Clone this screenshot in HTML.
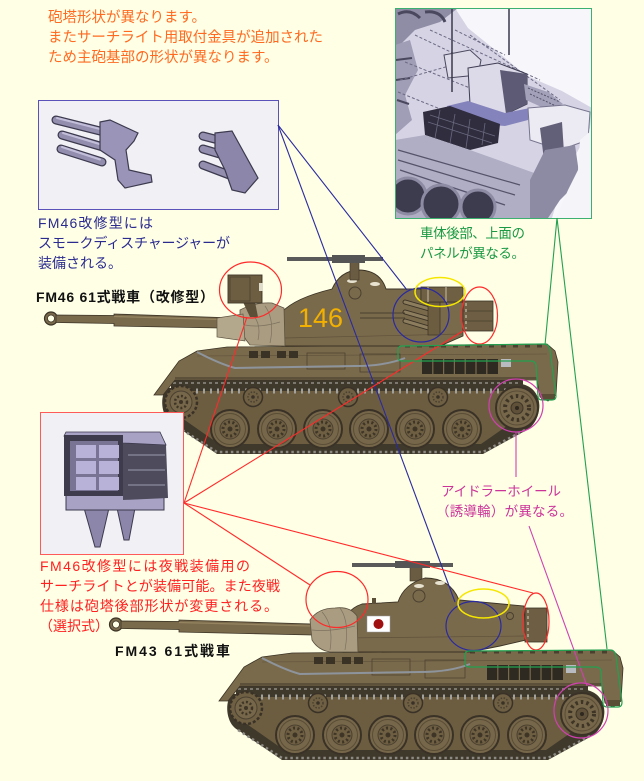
<!DOCTYPE html>
<html><head><meta charset="utf-8">
<style>
html,body{margin:0;padding:0;background:#FFFFE6;}
svg{display:block;}
text{font-family:"Liberation Sans","Noto Sans CJK JP",sans-serif;}
</style></head><body>
<svg width="644" height="781" viewBox="0 0 644 781" xmlns="http://www.w3.org/2000/svg">
<defs>
<g id="rw">
 <circle r="19" fill="#76674a" stroke="#3a3226" stroke-width="2"/>
 <circle r="15.5" fill="none" stroke="#5a4d36" stroke-width="1"/>
 <circle r="10" fill="#6e5f43" stroke="#4a4030" stroke-width="1"/>
 <circle r="7" fill="none" stroke="#3e3526" stroke-width="3" stroke-dasharray="2 2.4"/>
 <circle r="2.5" fill="#3e3526"/>
</g>
<g id="rr">
 <circle r="9.5" fill="#6f6044" stroke="#3a3226" stroke-width="1.5"/>
 <circle r="5" fill="none" stroke="#4a4030" stroke-width="1.5" stroke-dasharray="1.5 1.5"/>
 <circle r="1.8" fill="#3a3226"/>
</g>
<g id="idl">
 <circle r="21" fill="#76674a" stroke="#3a3226" stroke-width="2"/>
 <circle r="17" fill="none" stroke="#5a4d36"/>
 <circle r="12" fill="none" stroke="#3e3526" stroke-width="4" stroke-dasharray="2.5 3"/>
 <circle r="6" fill="#5e5039" stroke="#3e3526"/>
 <circle r="2" fill="#2e281e"/>
</g>
<g id="spr">
 <circle r="16" fill="#6f6044" stroke="#3a3226" stroke-width="2.5" stroke-dasharray="3 2"/>
 <circle r="11" fill="#76674a" stroke="#4a4030"/>
 <circle r="6" fill="none" stroke="#3e3526" stroke-width="2.5" stroke-dasharray="2 2"/>
 <circle r="2" fill="#3e3526"/>
</g>
<g id="hull">
 <path d="M232,694 L586,690 C600,692 606,705 604,716 C602,728 596,734 590,737 L548,760 L282,760 L238,730 C226,724 224,702 232,694 Z" fill="#3f392c"/>
 <path d="M238,730 L282,758 L548,758 L590,736" fill="none" stroke="#8d8a84" stroke-width="2.5" stroke-dasharray="2.5 3"/>
 <path d="M244,697 L584,697 L592,718 L546,750 L284,750 L244,722 Z" fill="#6c5d41"/>
 <rect x="236" y="686" width="352" height="8" fill="#3f392c"/>
 <line x1="238" y1="689" x2="586" y2="689" stroke="#7c7870" stroke-width="2" stroke-dasharray="3 3"/>
 <line x1="240" y1="697" x2="585" y2="697" stroke="#a3a19c" stroke-width="5" stroke-dasharray="2 5"/>
 <use href="#rr" x="318" y="703"/>
 <use href="#rr" x="413" y="703"/>
 <use href="#rr" x="503" y="703"/>
 <use href="#rw" x="295" y="735"/>
 <use href="#rw" x="342" y="735"/>
 <use href="#rw" x="388" y="735"/>
 <use href="#rw" x="434" y="735"/>
 <use href="#rw" x="480" y="735"/>
 <use href="#rw" x="527" y="735"/>
 <use href="#spr" x="246" y="708"/>
 <use href="#idl" x="582" y="714"/>
 <path d="M219,701 L244,667 L262,657 L292,653 L612,650 L620,657 L623,668 L621,701 L613,707 L605,703 L602,686 L240,686 L228,701 Z" fill="#7a6a4c" stroke="#3b3325" stroke-width="0.8"/>
 <line x1="240" y1="684" x2="602" y2="684" stroke="#4a4030" stroke-width="1.2"/>
 <line x1="262" y1="662" x2="612" y2="660" stroke="#5e513a" stroke-width="0.6"/>
 <rect x="314" y="657" width="9" height="7" fill="#3a3325"/>
 <rect x="326" y="657" width="9" height="7" fill="#3a3325"/>
 <rect x="342" y="657" width="9" height="7" fill="#3a3325"/>
 <rect x="354" y="657" width="9" height="7" fill="#3a3325"/>
 <rect x="372" y="659" width="38" height="16" fill="none" stroke="#4e4331" stroke-width="0.8"/>
 <rect x="425" y="660" width="40" height="18" fill="none" stroke="#4e4331" stroke-width="0.8"/>
 <path d="M262,658 Q285,670 300,674 L420,672 Q450,672 470,664" fill="none" stroke="#8e949c" stroke-width="2"/>
 <rect x="487" y="665" width="76" height="15" fill="#2e2a22"/>
 <path d="M497.8,665 V680 M508.6,665 V680 M519.4,665 V680 M530.2,665 V680 M541,665 V680 M551.8,665 V680" stroke="#7a6a4c" stroke-width="1.2"/>
 <rect x="566" y="665" width="10" height="8" fill="#b8bcc0"/>
 <path d="M470,652 H612" stroke="#4a4030" stroke-width="3" stroke-dasharray="5 7"/>
 <rect x="606" y="700" width="14" height="6" fill="#5a4d36"/>
</g>
<clipPath id="rc"><rect x="395" y="8" width="196" height="210"/></clipPath>
</defs>

<rect width="644" height="781" fill="#FFFFE6"/>

<!-- Orange text -->
<g fill="#ff6a20" font-size="14.5">
<text x="48" y="22">砲塔形状が異なります。</text>
<text x="48" y="42" textLength="275">またサーチライト用取付金具が追加された</text>
<text x="48" y="62">ため主砲基部の形状が異なります。</text>
</g>

<!-- Smoke discharger box -->
<rect x="38.5" y="100.5" width="240" height="109" fill="#f1f1f5" stroke="#5a52b8" stroke-width="1"/>
<g stroke-linecap="round">
 <g stroke="#3c3a4e" stroke-width="9">
  <line x1="56" y1="120" x2="108" y2="133"/>
  <line x1="62" y1="135" x2="103" y2="147"/>
  <line x1="61" y1="149" x2="102" y2="162"/>
  <line x1="203" y1="136" x2="230" y2="143"/>
  <line x1="203" y1="149" x2="230" y2="157"/>
  <line x1="203" y1="165" x2="232" y2="176"/>
 </g>
 <g stroke="#938dae" stroke-width="6.5">
  <line x1="56" y1="120" x2="108" y2="133"/>
  <line x1="62" y1="135" x2="103" y2="147"/>
  <line x1="61" y1="149" x2="102" y2="162"/>
  <line x1="203" y1="136" x2="230" y2="143"/>
  <line x1="203" y1="149" x2="230" y2="157"/>
  <line x1="203" y1="165" x2="232" y2="176"/>
 </g>
 <g stroke="#c2bdd8" stroke-width="2">
  <line x1="57" y1="118" x2="106" y2="130.5"/>
  <line x1="63" y1="133" x2="101" y2="144.5"/>
  <line x1="62" y1="147" x2="100" y2="159.5"/>
 </g>
</g>
<polygon points="100,122 110,120 138,133 134,141 126,150 129,170 151,175 152,182 125,188 118,180 115,160 100,150" fill="#9a94b8" stroke="#3c3a4e" stroke-width="1.2"/>
<polygon points="215,133 232,131 258,178 245,193 232,190 225,170 215,150" fill="#8c86aa" stroke="#3c3a4e" stroke-width="1.2"/>

<!-- Blue text -->
<g fill="#2b2b8f" font-size="14">
<text x="38" y="228" textLength="115">FM46改修型には</text>
<text x="38" y="248" textLength="192">スモークディスチャージャーが</text>
<text x="38" y="268">装備される。</text>
</g>

<!-- Right render box -->
<g clip-path="url(#rc)">
<rect x="395" y="8" width="196" height="210" fill="#f7f7fb"/>
<polygon points="395,8 455,8 468,28 505,58 525,75 562,91 592,108 590,128 565,175 552,218 395,218" fill="#d6d4e4"/>
<polygon points="395,8 458,8 440,22 415,30 400,45 395,45" fill="#8f8da6"/>
<path d="M398,14 Q410,8 420,18 M425,12 Q440,10 445,22" stroke="#4a485e" stroke-width="3" fill="none"/>
<polygon points="395,45 410,40 418,70 405,95 412,120 395,135" fill="#a09eb6"/>
<path d="M396,60 L412,58 M396,80 L410,78 M397,100 L409,104" stroke="#4a485e" stroke-width="2"/>
<path d="M415,35 L520,85 M430,30 L540,80 M400,80 L470,60 M470,35 L560,100 M405,62 L500,100 M398,92 L455,115 M455,30 L505,55" stroke="#6c6a84" stroke-width="1" stroke-dasharray="3 2" fill="none"/>
<polygon points="444,55 470,50 481,60 478,75 448,78" fill="#dddbe8" stroke="#4a485e"/>
<polygon points="468,68 498,63 527,74 527,104 506,114 470,104" fill="#dcdae8" stroke="#3e3c52" stroke-width="1"/>
<polygon points="500,70 527,74 527,104 506,114" fill="#5c5a74"/>
<polygon points="447,106 468,101 505,113 530,108 528,120 505,126 450,122" fill="#8583bc"/>
<polygon points="423,112 450,106 500,124 498,143 470,150 425,135" fill="#2f2d3e"/>
<path d="M430,115 L495,136 M428,122 L492,143 M440,110 L435,138 M455,114 L450,143 M470,119 L466,148 M485,123 L482,145" stroke="#6a687e" stroke-width="0.8"/>
<polygon points="524,84 548,92 563,104 548,110 526,100" fill="#a3a1b9"/>
<path d="M528,88 L560,102 M530,94 L556,106" stroke="#55536b" stroke-width="1" stroke-dasharray="2 1.5"/>
<polygon points="528,108 565,105 590,112 588,140 560,150 530,140" fill="#eceaf3" stroke="#77758e"/>
<polygon points="540,128 562,122 565,168 546,176" fill="#626079"/>
<polygon points="395,140 425,135 470,150 540,175 545,218 395,218" fill="#b0aec4"/>
<path d="M398,150 L520,185 M398,160 L515,195 M400,170 L505,205" stroke="#55536b" stroke-width="1.2"/>
<polygon points="545,150 575,145 580,180 560,200 548,218 530,218 530,180" fill="#8d8ba3"/>
<polygon points="580,140 592,130 592,218 556,218 568,190 578,170" fill="#f5f5f9"/>
<circle cx="408" cy="196" r="18" fill="#3d3b4e" stroke="#8d8ba3" stroke-width="3"/>
<circle cx="441" cy="204" r="19" fill="#3d3b4e" stroke="#8d8ba3" stroke-width="3"/>
<circle cx="478" cy="207" r="17" fill="#3d3b4e" stroke="#8d8ba3" stroke-width="3"/>
<line x1="452" y1="8" x2="452" y2="92" stroke="#3a384c" stroke-width="1.5"/>
<line x1="509" y1="8" x2="509" y2="55" stroke="#3a384c" stroke-width="1.5"/>
</g>
<rect x="395.5" y="8.5" width="196" height="210" fill="none" stroke="#3cb070" stroke-width="1"/>

<!-- Green text -->
<g fill="#1a9944" font-size="13.5">
<text x="420" y="238" textLength="105">車体後部、上面の</text>
<text x="420" y="258" textLength="105">パネルが異なる。</text>
</g>

<!-- FM46 label -->
<text x="36" y="302" font-size="14" font-weight="bold" fill="#111" textLength="178">FM46 61式戦車（改修型）</text>

<!-- ===== Tank 1 ===== -->
<use href="#hull" transform="translate(-65,-306)"/>
<circle cx="51" cy="318.5" r="6.5" fill="#7a6a4c" stroke="#3b3325" stroke-width="1.2"/>
<circle cx="51" cy="318.5" r="3.5" fill="#FFFFE6" stroke="#3b3325" stroke-width="0.8"/>
<polygon points="56,315 114,315.5 114,314 220,317.5 220,328 114,326 114,323.5 56,322.5" fill="#7a6a4c" stroke="#3b3325" stroke-width="0.8"/>
<line x1="114" y1="316.5" x2="220" y2="319.5" stroke="#95845f" stroke-width="1.2"/>
<!-- turret -->
<path d="M282,346 L282,312 Q295,298 332,289 Q340,271 358,270 Q380,270 386,289 L421,289 L421,302 L463,302 L463,336 L440,346 Z" fill="#7a6a4c" stroke="#3b3325" stroke-width="0.9"/>
<line x1="284" y1="338" x2="462" y2="334" stroke="#5e513a" stroke-width="0.7"/>
<ellipse cx="352" cy="281" rx="5" ry="2" fill="#e8e2d0"/>
<ellipse cx="375" cy="284" rx="5" ry="2" fill="#e8e2d0"/>
<circle cx="355" cy="293" r="6" fill="none" stroke="#4a4030"/>
<!-- MG -->
<rect x="350" y="261" width="9" height="19" fill="#6a5c42" stroke="#3b3325" stroke-width="0.6"/>
<rect x="287" y="257" width="96" height="4" fill="#5a5a5a"/>
<rect x="332" y="255" width="33" height="8" fill="#555"/>
<!-- smoke discharger on turret -->
<g stroke-linecap="round">
<line x1="405" y1="302" x2="433" y2="310" stroke="#3b3325" stroke-width="5"/>
<line x1="405" y1="312" x2="433" y2="320" stroke="#3b3325" stroke-width="5"/>
<line x1="405" y1="321" x2="432" y2="329" stroke="#3b3325" stroke-width="5"/>
<line x1="405" y1="302" x2="433" y2="310" stroke="#8c7d5e" stroke-width="3"/>
<line x1="405" y1="312" x2="433" y2="320" stroke="#8c7d5e" stroke-width="3"/>
<line x1="405" y1="321" x2="432" y2="329" stroke="#8c7d5e" stroke-width="3"/>
</g>
<path d="M360,313 H405 M360,318 H405" stroke="#3b3325" stroke-width="0.8"/>
<rect x="428" y="302" width="12" height="33" fill="#6c5d41" stroke="#3b3325" stroke-width="0.7"/>
<!-- stowage box (yellow) -->
<rect x="421" y="287" width="42" height="15" fill="#6f6044" stroke="#3b3325" stroke-width="0.8"/>
<path d="M428,287 V302 M446,287 V302" stroke="#b8ad95" stroke-width="1.2"/>
<!-- rear box -->
<rect x="463" y="301" width="30" height="30" fill="#6e5f44" stroke="#3b3325" stroke-width="0.8"/>
<path d="M463,311 H493 M463,321 H493" stroke="#4a4030" stroke-width="0.8"/>
<path d="M466,303 V329" stroke="#c8c0ac" stroke-width="1.2" stroke-dasharray="3 3"/>
<!-- canvas -->
<path d="M240,310 Q255,302 272,303 L284,308 L285,346 L250,345 Q242,336 240,325 Z" fill="#a99c80" stroke="#5c5240" stroke-width="0.8"/>
<path d="M217,318 L243,314 L245,341 L217,337 Z" fill="#b4a88c" stroke="#5c5240" stroke-width="0.7"/>
<path d="M250,312 Q262,322 258,340 M265,306 Q275,320 270,343 M245,325 Q260,328 280,322" fill="none" stroke="#7d7260" stroke-width="0.7"/>
<!-- searchlight -->
<path d="M243,302 L250,317 L258,317 L255,302 Z" fill="#5c4f38"/>
<rect x="228" y="275" width="34" height="28" fill="#6d5e42" stroke="#3b3325" stroke-width="0.9"/>
<rect x="230" y="277" width="20" height="24" fill="none" stroke="#4a4030" stroke-width="0.8"/>
<rect x="259" y="283" width="4" height="8" fill="#e0dccc"/>
<text x="298" y="327" font-size="27" fill="#f2b000">146</text>

<!-- ===== Tank 2 ===== -->
<use href="#hull"/>
<circle cx="116" cy="624.5" r="6.5" fill="#7a6a4c" stroke="#3b3325" stroke-width="1.2"/>
<circle cx="116" cy="624.5" r="3.5" fill="#FFFFE6" stroke="#3b3325" stroke-width="0.8"/>
<polygon points="121,621 179,621.5 179,620 312,624 312,635 179,632 179,629.5 121,628.5" fill="#7a6a4c" stroke="#3b3325" stroke-width="0.8"/>
<line x1="179" y1="622.5" x2="312" y2="626" stroke="#95845f" stroke-width="1.2"/>
<!-- MG -->
<rect x="410" y="567" width="12" height="14" fill="#6a5c42" stroke="#3b3325" stroke-width="0.6"/>
<rect x="352" y="563" width="101" height="4" fill="#5a5a5a"/>
<rect x="395" y="561" width="35" height="7" fill="#555"/>
<!-- turret -->
<path d="M343,652 L342,630 Q344,610 362,604 L398,602 Q404,584 425,578 Q450,578 459,600 L524,606 L526,640 L500,646 L470,652 Z" fill="#7a6a4c" stroke="#3b3325" stroke-width="0.9"/>
<line x1="345" y1="638" x2="524" y2="636" stroke="#5e513a" stroke-width="0.7"/>
<ellipse cx="419" cy="586" rx="5" ry="2" fill="#e8e2d0"/>
<ellipse cx="440" cy="583" rx="5" ry="2" fill="#e8e2d0"/>
<circle cx="419" cy="596" r="6" fill="none" stroke="#4a4030"/>
<circle cx="510" cy="616" r="3.5" fill="none" stroke="#4a4030"/>
<rect x="372" y="598" width="4" height="6" fill="#5c4f38"/>
<rect x="525" y="608" width="22" height="34" fill="#6e5f44" stroke="#3b3325" stroke-width="0.8"/>
<path d="M528,610 V640" stroke="#c8c0ac" stroke-width="1.2" stroke-dasharray="3 3"/>
<rect x="367" y="616" width="23" height="16" fill="#fff" stroke="#999" stroke-width="0.5"/>
<circle cx="378.5" cy="624" r="5" fill="#a01010"/>
<!-- canvas -->
<path d="M310,620 Q318,608 335,608 Q350,606 357,616 L358,652 L330,652 Q318,650 312,640 Z" fill="#a99c80" stroke="#5c5240" stroke-width="0.8"/>
<path d="M322,612 Q334,625 330,650 M340,608 Q350,622 345,650 M312,630 Q330,632 355,626" fill="none" stroke="#7d7260" stroke-width="0.7"/>

<!-- FM43 label -->
<text x="115" y="656" font-size="14" font-weight="bold" fill="#111" textLength="115">FM43  61式戦車</text>

<!-- Searchlight box -->
<rect x="40.5" y="412.5" width="143" height="142" fill="#f1f1f5" stroke="#ff5a5a" stroke-width="1"/>
<polygon points="84,508 109,508 100,547 95,547" fill="#8c86aa" stroke="#3c3a4e"/>
<polygon points="117,508 135,508 129,540 124,540" fill="#8c86aa" stroke="#3c3a4e"/>
<rect x="66" y="493" width="98" height="17" fill="#a8a2c4" stroke="#3c3a4e"/>
<polygon points="123,443 166,445 168,498 123,500" fill="#4e4c5c"/>
<path d="M128,455 H165 M128,470 H165 M128,485 H165" stroke="#8c8aa0" stroke-width="1.2"/>
<polygon points="66,432 160,432 166,445 123,443 64,436" fill="#a8a2c4" stroke="#3c3a4e" stroke-width="0.8"/>
<rect x="64" y="435" width="59" height="61" fill="#3e3c4c"/>
<rect x="70" y="441" width="48" height="50" fill="#7a7494"/>
<g fill="#b8b2d8">
<rect x="76" y="445" width="20" height="13"/><rect x="99" y="445" width="20" height="13"/>
<rect x="76" y="461" width="20" height="13"/><rect x="99" y="461" width="20" height="13"/>
<rect x="76" y="477" width="20" height="13"/><rect x="99" y="477" width="20" height="13"/>
</g>

<!-- Red text -->
<g fill="#ff2020" font-size="14">
<text x="40" y="571" textLength="210">FM46改修型には夜戦装備用の</text>
<text x="40" y="591" textLength="240">サーチライトとが装備可能。また夜戦</text>
<text x="40" y="611" textLength="238">仕様は砲塔後部形状が変更される。</text>
<text x="39" y="631">（選択式）</text>
</g>

<!-- Magenta text -->
<g fill="#cc3399" font-size="13.5">
<text x="441" y="496" textLength="120">アイドラーホイール</text>
<text x="436" y="516" textLength="137">（誘導輪）が異なる。</text>
</g>

<!-- Connectors -->
<g fill="none" stroke-width="1.1">
<line x1="278" y1="125" x2="407" y2="290" stroke="#2a2aa0"/>
<line x1="278" y1="125" x2="455" y2="602" stroke="#2a2aa0"/>
<line x1="184" y1="503" x2="247" y2="317" stroke="#ff2a2a"/>
<line x1="184" y1="503" x2="463" y2="331" stroke="#ff2a2a"/>
<line x1="184" y1="503" x2="310" y2="585" stroke="#ff2a2a"/>
<line x1="184" y1="503" x2="533" y2="593" stroke="#ff2a2a"/>
<line x1="557" y1="218" x2="545" y2="345" stroke="#22a050"/>
<line x1="557" y1="218" x2="607" y2="649" stroke="#22a050"/>
<line x1="516" y1="432" x2="516" y2="477" stroke="#d040b0"/>
<line x1="529" y1="526" x2="587" y2="686" stroke="#d040b0"/>
</g>

<!-- Highlight ellipses tank 1 -->
<g fill="none" stroke-width="1.2">
<ellipse cx="250.5" cy="290" rx="31" ry="28" stroke="#ff2a2a"/>
<ellipse cx="421" cy="315" rx="28" ry="27" stroke="#2a2aa0"/>
<ellipse cx="440" cy="292" rx="25" ry="14.5" stroke="#f5e600" stroke-width="1.5"/>
<ellipse cx="479.5" cy="315.5" rx="18" ry="28.5" stroke="#ff2a2a"/>
<path d="M402,346 L544,344 Q549,344 550,350 L556,396 Q556,400 552,400 L542,400 Q538,400 538,396 L536,365 Q535,361 531,361 L402,361 Q398,361 398,357 L398,350 Q398,346 402,346 Z" stroke="#22a050"/>
<ellipse cx="516" cy="405.5" rx="27" ry="26.5" stroke="#d040b0"/>
</g>
<!-- Highlight ellipses tank 2 -->
<g fill="none" stroke-width="1.2">
<ellipse cx="337" cy="599.5" rx="31" ry="28" stroke="#ff2a2a"/>
<ellipse cx="473.5" cy="626" rx="27.5" ry="24.5" stroke="#2a2aa0"/>
<ellipse cx="483.5" cy="603.5" rx="25.5" ry="14.5" stroke="#f5e600" stroke-width="1.5"/>
<ellipse cx="536" cy="621.5" rx="13" ry="28.5" stroke="#ff2a2a"/>
<path d="M469,651 L610,650 Q615,650 616,656 L622,702 Q622,707 618,707 L607,707 Q603,707 603,703 L601,671 Q600,667 596,667 L469,667 Q465,667 465,663 L465,655 Q465,651 469,651 Z" stroke="#22a050"/>
<ellipse cx="581" cy="710.5" rx="27" ry="27.5" stroke="#d040b0"/>
</g>
</svg>
</body></html>
